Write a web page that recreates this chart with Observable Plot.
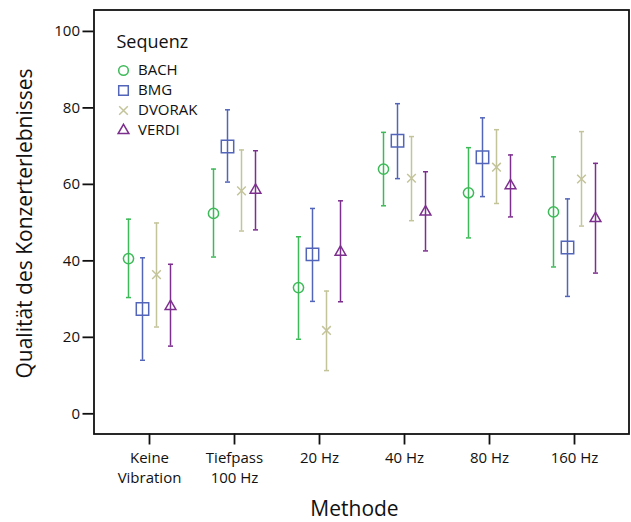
<!DOCTYPE html>
<html>
<head>
<meta charset="utf-8">
<script src="https://cdn.jsdelivr.net/npm/d3@7"></script>
<script src="https://cdn.jsdelivr.net/npm/@observablehq/plot@0.6"></script>
<style>
  html, body { margin: 0; padding: 0; background: #fff; }
  #wrap { position: relative; width: 631px; height: 522px; font-family: "Open Sans", sans-serif; }
  #legend { position: absolute; left: 110px; top: 25px; width: 110px; height: 115px; }
  #legend svg { max-width: none !important; }
</style>
</head>
<body>
<div id="wrap">
  <div id="chart"></div>
  <div id="legend"></div>
</div>
<script>
// ---- data ----
const methods = ["Keine Vibration", "Tiefpass 100 Hz", "20 Hz", "40 Hz", "80 Hz", "160 Hz"];
const methodLabels = ["Keine\nVibration", "Tiefpass\n100 Hz", "20 Hz", "40 Hz", "80 Hz", "160 Hz"];
const series = ["BACH", "BMG", "DVORAK", "VERDI"];
const yTicks = [0, 20, 40, 60, 80, 100];

const bachMean   = [40.6, 52.4, 33.0, 64.0, 57.8, 52.8];
const bachLow    = [30.4, 41.0, 19.5, 54.4, 46.0, 38.4];
const bachHigh   = [50.9, 64.0, 46.3, 73.6, 69.6, 67.2];

const bmgMean    = [27.4, 69.9, 41.7, 71.4, 67.1, 43.5];
const bmgLow     = [14.0, 60.6, 29.4, 61.5, 56.8, 30.7];
const bmgHigh    = [40.8, 79.5, 53.7, 81.1, 77.4, 56.2];

const dvorakMean = [36.4, 58.3, 21.8, 61.6, 64.5, 61.4];
const dvorakLow  = [22.7, 47.8, 11.3, 50.5, 55.0, 49.1];
const dvorakHigh = [49.9, 69.0, 32.1, 72.5, 74.3, 73.8];

const verdiMean  = [28.1, 58.5, 42.3, 52.8, 59.7, 51.1];
const verdiLow   = [17.7, 48.1, 29.3, 42.6, 51.5, 36.8];
const verdiHigh  = [39.1, 68.8, 55.7, 63.3, 67.7, 65.5];

const title = "Sequenz";
const xLabel = "Methode";
const yLabel = "Qualität des Konzerterlebnisses";

// ---- build table ----
const valueSets = {
  BACH: [bachMean, bachLow, bachHigh],
  BMG: [bmgMean, bmgLow, bmgHigh],
  DVORAK: [dvorakMean, dvorakLow, dvorakHigh],
  VERDI: [verdiMean, verdiLow, verdiHigh]
};
const rows = series.flatMap(s => methods.map((m, i) => ({
  series: s, method: m,
  mean: valueSets[s][0][i], lo: valueSets[s][1][i], hi: valueSets[s][2][i]
})));

// ---- styles ----
const styles = {
  BACH:   {color: "#3dba58", symbol: "circle",   r: 5.1, lr: 4.8, dx: -21},
  BMG:    {color: "#5265b9", symbol: "square",   r: 7.0, lr: 5.4, dx: -7},
  DVORAK: {color: "#c3c49a", symbol: "times",    r: 4.0, lr: 4.0, dx: 7},
  VERDI:  {color: "#7c2f8d", symbol: "triangle", r: 4.0, lr: 4.0, dx: 21}
};
const sw = 1.5;
const capSymbol = {draw(context) { context.moveTo(-2.5, 0); context.lineTo(2.5, 0); }};

const seriesMarks = series.flatMap(s => {
  const d = rows.filter(r => r.series === s);
  const st = styles[s];
  return [
    Plot.ruleX(d, {x: "method", y1: "lo", y2: "hi", dx: st.dx, stroke: st.color, strokeWidth: sw}),
    Plot.dot(d, {x: "method", y: "lo", dx: st.dx, symbol: capSymbol, stroke: st.color, strokeWidth: sw, fill: "none"}),
    Plot.dot(d, {x: "method", y: "hi", dx: st.dx, symbol: capSymbol, stroke: st.color, strokeWidth: sw, fill: "none"}),
    Plot.dot(d, {x: "method", y: "mean", dx: st.dx, symbol: st.symbol, r: st.r, stroke: st.color, strokeWidth: sw, fill: "none"})
  ];
});

const chart = Plot.plot({
  width: 631,
  height: 522,
  marginLeft: 93.5,
  marginRight: 2.5,
  marginTop: 9.5,
  marginBottom: 88.5,
  style: {fontFamily: "'Open Sans', sans-serif", fontSize: "15px", color: "#111", background: "#fff"},
  x: {type: "point", domain: methods, padding: 0.647},
  y: {domain: [-5.28, 105.6]},
  marks: [
    Plot.axisY({ticks: yTicks, tickSize: 11, tickPadding: 3, strokeWidth: 1.8, label: null, fontSize: 15}),
    Plot.axisX({tickSize: 11, tickPadding: 4, strokeWidth: 1.8, label: null, fontSize: 15, lineHeight: 1.33,
      tickFormat: d => methodLabels[methods.indexOf(d)]}),
    ...seriesMarks,
    Plot.frame({stroke: "#111", strokeWidth: 1.8}),
    Plot.text([xLabel], {text: d => d, frameAnchor: "bottom", dy: 75.5, dx: -7, textAnchor: "middle", lineAnchor: "middle", fontSize: 21, fill: "#111"}),
    Plot.text([yLabel], {text: d => d, frameAnchor: "left", dx: -68.5, dy: 1.5, rotate: -90, textAnchor: "middle", lineAnchor: "middle", fontSize: 21, fill: "#111"})
  ]
});
document.getElementById("chart").appendChild(chart);

// ---- legend ----
const legend = Plot.plot({
  width: 110,
  height: 115,
  margin: 0,
  style: {fontFamily: "'Open Sans', sans-serif", fontSize: "15px", color: "#111", background: "transparent", overflow: "visible"},
  y: {type: "point", domain: series, range: [45, 105], padding: 0, axis: null},
  marks: [
    Plot.text([title], {text: d => d, frameAnchor: "top-left", dx: 6, dy: 17, textAnchor: "start", lineAnchor: "middle", fontSize: 18, fill: "#111"}),
    ...series.map(s => Plot.dot([s], {y: d => d, frameAnchor: "left", dx: 13, symbol: styles[s].symbol, r: styles[s].lr,
      stroke: styles[s].color, strokeWidth: sw, fill: "none"})),
    Plot.text(series, {y: d => d, text: d => d, frameAnchor: "left", dx: 27.5, textAnchor: "start", lineAnchor: "middle", fontSize: 15, fill: "#111"})
  ]
});
document.getElementById("legend").appendChild(legend);
</script>
</body>
</html>
